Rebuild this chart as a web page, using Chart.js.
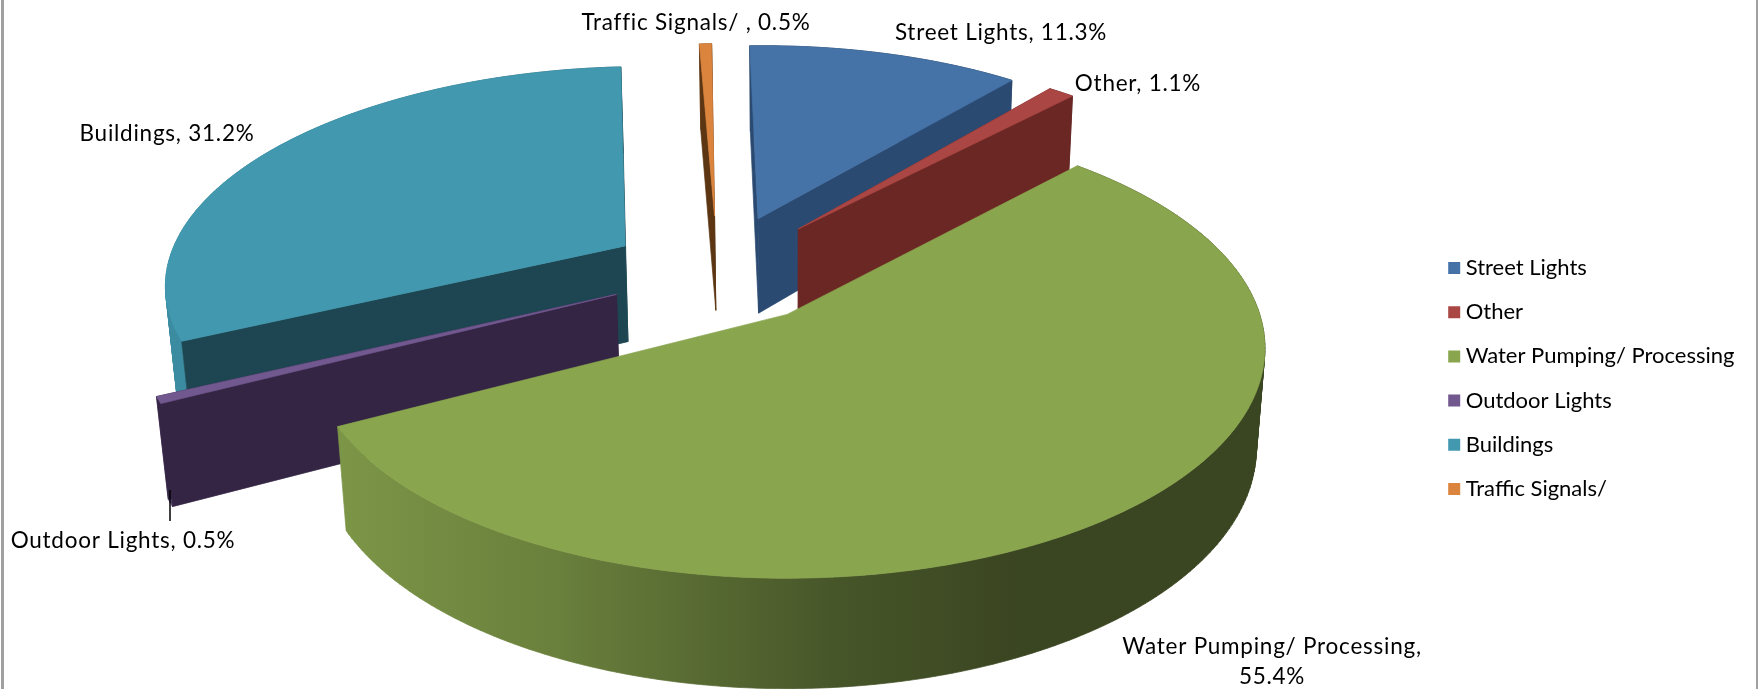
<!DOCTYPE html>
<html>
<head>
<meta charset="utf-8">
<script src="https://cdn.jsdelivr.net/npm/chart.js@4"></script>
<style>
    html, body { margin: 0; padding: 0; background: #fff; }
    #wrap { position: relative; width: 1758px; height: 689px; }
</style>
</head>
<body>
<div id="wrap"><canvas id="usageChart" width="1758" height="689"></canvas></div>
<script>
const categories = ['Street Lights', 'Other', 'Water Pumping/ Processing', 'Outdoor Lights', 'Buildings', 'Traffic Signals/'];
const shares = [11.3, 1.1, 55.4, 0.5, 31.2, 0.5];
const sliceColors = ['#4572a7', '#aa4643', '#89a54e', '#71588f', '#4198af', '#db843d'];
const wallColors = ['#2b4a72', '#6b2724', '#3a471c', '#342544', '#1d4652', '#5c3512'];
const sliceExplode = [0.27, 0.27, 0.25, 0.24, 0.24, 0.27];

// the pie plane seen in perspective, fitted by eye against the picture
const view = { x: 790, y: 319, kx: 474, ky: 226, tilt: 0.149, depth: 101, sink: 0.018, hubU: -0.158, hubV: -0.219 };
// rim brightness against the sideways direction of the rim
const rimShade = [[-1, 0.92], [-0.48, 0.77], [0.1, 0.52], [0.5, 0.42], [1, 0.42]];
// back to front
const paintOrder = [0, 5, 4, 1, 3, 2];

const labelSpots = [
    { text: ['Street Lights, 11.3%'], x: 1001, y: 33 },
    { text: ['Other, 1.1%'], x: 1138, y: 84 },
    { text: ['Water Pumping/ Processing,', '55.4%'], x: 1272, y: 647 },
    { text: ['Outdoor Lights, 0.5%'], x: 123, y: 541 },
    { text: ['Buildings, 31.2%'], x: 167, y: 134 },
    { text: ['Traffic Signals/ , 0.5%'], x: 696, y: 23 }
];

function project(u, v, low) {
    const w = 1 - view.tilt * v + (low ? view.sink : 0);
    return {
        x: view.x + view.kx * u / w,
        y: view.y + (view.ky * v + (low ? view.depth : 0)) / w
    };
}

function shade(hex, f) {
    const n = parseInt(hex.slice(1), 16);
    return `rgb(${Math.round((n >> 16) * f)},${Math.round(((n >> 8) & 255) * f)},${Math.round((n & 255) * f)})`;
}

function paint(ctx, color) {
    ctx.fillStyle = color;
    ctx.strokeStyle = color;
    ctx.lineWidth = 0.7;
    ctx.fill();
    ctx.stroke();
}

function trace(ctx, pts) {
    pts.forEach((p, i) => i ? ctx.lineTo(p.x, p.y) : ctx.moveTo(p.x, p.y));
    ctx.closePath();
}

function poly(ctx, pts, color) {
    ctx.beginPath();
    trace(ctx, pts);
    paint(ctx, color);
}

// all strips wound the same way, so one path fills without seams or holes
function windCw(pts) {
    let area = 0;
    pts.forEach((p, i) => {
        const q = pts[(i + 1) % pts.length];
        area += p.x * q.y - q.x * p.y;
    });
    return area < 0 ? pts.slice().reverse() : pts;
}

const pie3d = {
    id: 'pie3d',
    beforeDatasetsDraw(chart) {
        const ctx = chart.ctx;
        const arcs = chart.getDatasetMeta(0).data;
        paintOrder.forEach(i => {
            const el = arcs[i];
            const sweep = el.endAngle - el.startAngle;
            const mid = (el.startAngle + el.endAngle) / 2;
            const hub = {
                u: view.hubU + sliceExplode[i] * Math.cos(mid),
                v: view.hubV + sliceExplode[i] * Math.sin(mid)
            };
            const steps = Math.max(2, Math.ceil(sweep * 60));
            const ring = [];
            for (let s = 0; s <= steps; s++) {
                const a = el.startAngle + sweep * s / steps;
                ring.push({ u: hub.u + Math.cos(a), v: hub.v + Math.sin(a) });
            }

            // outer rim, the far part ends up under the top face
            const left = project(hub.u - 1, hub.v).x, right = project(hub.u + 1, hub.v).x;
            const grad = ctx.createLinearGradient(left, 0, right, 0);
            rimShade.forEach(([nx, f]) => grad.addColorStop((nx + 1) / 2, shade(sliceColors[i], f)));
            ctx.beginPath();
            for (let s = 0; s < steps; s++) {
                const a = ring[s], b = ring[s + 1];
                trace(ctx, windCw([project(a.u, a.v), project(b.u, b.v), project(b.u, b.v, true), project(a.u, a.v, true)]));
            }
            paint(ctx, grad);

            // the two cut faces, a slice over half a turn hides them
            if (sweep < Math.PI) {
                [ring[0], ring[ring.length - 1]].forEach(edge => {
                    poly(ctx, [
                        project(hub.u, hub.v), project(edge.u, edge.v),
                        project(edge.u, edge.v, true), project(hub.u, hub.v, true)
                    ], wallColors[i]);
                });
            }

            poly(ctx, [hub].concat(ring).map(p => project(p.u, p.v)), sliceColors[i]);
        });
        return false;
    },
    afterDraw(chart) {
        const ctx = chart.ctx;
        ctx.save();
        // frame of the picture
        ctx.fillStyle = '#a0a0a0';
        ctx.fillRect(1, 0, 3, chart.height);
        ctx.fillRect(chart.width - 2, 0, 2, chart.height);

        // leader of the outdoor lights label
        ctx.strokeStyle = '#000';
        ctx.lineWidth = 1.5;
        ctx.beginPath();
        ctx.moveTo(170, 490);
        ctx.lineTo(170, 521);
        ctx.stroke();

        ctx.fillStyle = '#000';
        ctx.font = '22.5px Lato';
        ctx.letterSpacing = '0.75px';
        ctx.textAlign = 'center';
        ctx.textBaseline = 'middle';
        labelSpots.forEach(l => l.text.forEach((t, j) => ctx.fillText(t, l.x, l.y + j * 30)));
        ctx.restore();
    }
};

new Chart(document.getElementById('usageChart'), {
    type: 'pie',
    data: {
        labels: categories,
        datasets: [{ data: shares, backgroundColor: sliceColors, borderWidth: 0 }]
    },
    options: {
        responsive: false,
        animation: false,
        rotation: -1.8,
        layout: { padding: { top: 68, right: 13.5 } },
        plugins: {
            tooltip: { enabled: false },
            legend: {
                position: 'right',
                labels: {
                    usePointStyle: true,
                    pointStyle: 'rect',
                    boxWidth: 1,
                    boxHeight: 12,
                    padding: 22.2,
                    color: '#000',
                    font: { family: 'Lato', size: 22 }
                }
            }
        }
    },
    plugins: [pie3d]
});
</script>
</body>
</html>
